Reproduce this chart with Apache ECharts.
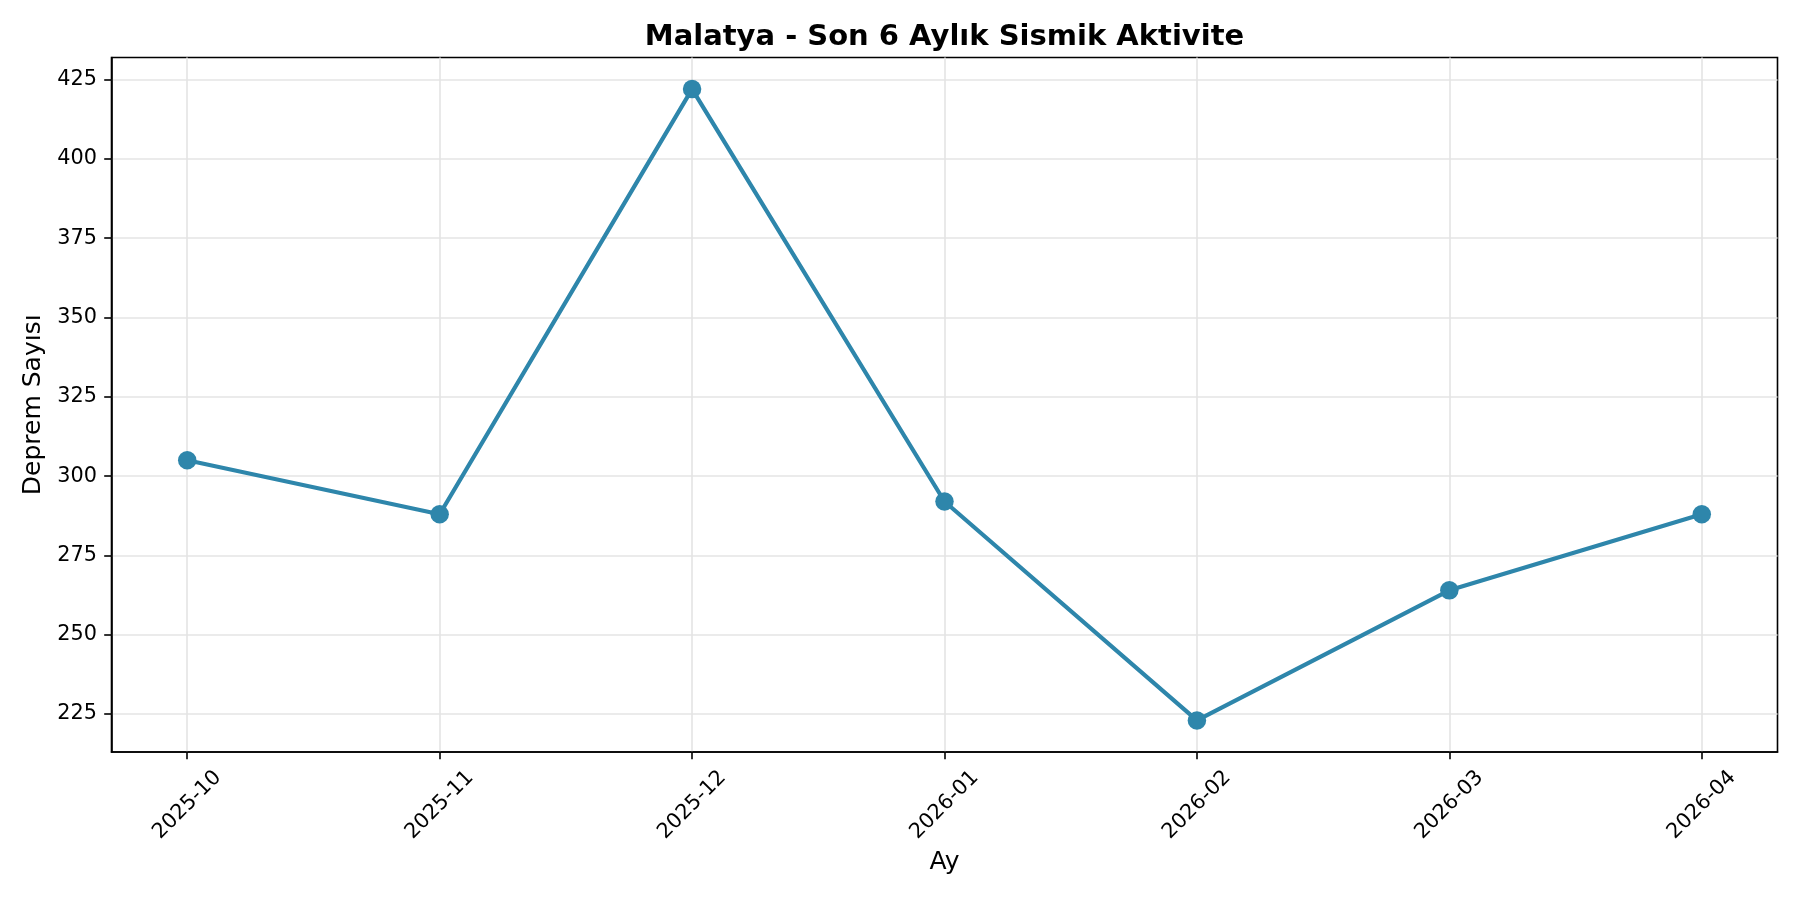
<!DOCTYPE html>
<html>
<head>
<meta charset="utf-8">
<script src="https://cdn.jsdelivr.net/npm/echarts@6/dist/echarts.min.js"></script>
<style>
  html, body { margin: 0; padding: 0; background: #fff; }
  #main { width: 1800px; height: 900px; }
</style>
</head>
<body>
<div id="main"></div>
<script>
var myChart = echarts.init(document.getElementById('main'));

// Monthly earthquake counts
const months = ['2025-10', '2025-11', '2025-12', '2026-01', '2026-02', '2026-03', '2026-04'];
const counts = [305, 288, 422, 292, 223, 264, 288];
const yTicks = [225, 250, 275, 300, 325, 350, 375, 400, 425];
const xTicks = [0, 1, 2, 3, 4, 5, 6];

const FONT = 'DejaVu Sans';
const lineColor = '#2E86AB';

// matplotlib-style 5% padding around the data
const yPad = (Math.max(...counts) - Math.min(...counts)) * 0.05;
const xPad = (months.length - 1) * 0.05;

var option = {
    animation: false,
    backgroundColor: '#fff',
    title: {
        text: 'Malatya - Son 6 Aylık Sismik Aktivite',
        left: 944.5,
        top: 37.5,
        padding: 0,
        textAlign: 'center',
        textVerticalAlign: 'middle',
        textStyle: {
            fontFamily: FONT,
            fontSize: 29,
            fontWeight: 'bold',
            color: '#000'
        }
    },
    grid: {
        left: 111.5,
        right: 22.5,
        top: 57.5,
        bottom: 148,
        show: true,
        borderColor: '#000',
        borderWidth: 1.6,
        containLabel: false
    },
    xAxis: {
        type: 'value',
        min: -xPad,
        max: months.length - 1 + xPad,
        minInterval: 1,
        maxInterval: 1,
        name: 'Ay',
        nameLocation: 'middle',
        nameGap: 98,
        nameTextStyle: { fontFamily: FONT, fontSize: 25, color: '#000' },
        axisLine: { show: true, onZero: false, lineStyle: { color: '#000', width: 1.6 } },
        axisTick: {
            show: true, inside: false, length: 7.3, customValues: xTicks,
            lineStyle: { color: '#000', width: 1.6 }
        },
        axisLabel: {
            customValues: xTicks,
            rotate: 45,
            align: 'center',
            verticalAlign: 'middle',
            margin: 53,
            fontFamily: FONT,
            fontSize: 20.8,
            color: '#000',
            showMinLabel: true,
            showMaxLabel: true,
            formatter: function (v) {
                return Number.isInteger(v) && months[v] ? months[v] : '';
            }
        },
        splitLine: { show: true, lineStyle: { color: '#e4e4e4', width: 1.6 } }
    },
    yAxis: {
        type: 'value',
        min: Math.min(...counts) - yPad,
        max: Math.max(...counts) + yPad,
        minInterval: 25,
        maxInterval: 25,
        name: 'Deprem Sayısı',
        nameLocation: 'middle',
        nameGap: 64,
        nameTextStyle: { fontFamily: FONT, fontSize: 25, color: '#000' },
        axisLine: { show: true, onZero: false, lineStyle: { color: '#000', width: 1.6 } },
        axisTick: {
            show: true, inside: false, length: 7.3, customValues: yTicks,
            lineStyle: { color: '#000', width: 1.6 }
        },
        axisLabel: {
            customValues: yTicks,
            margin: 14.6,
            fontFamily: FONT,
            fontSize: 20.8,
            color: '#000',
            showMinLabel: true,
            showMaxLabel: true
        },
        splitLine: { show: true, lineStyle: { color: '#e4e4e4', width: 1.6 } }
    },
    series: [
        {
            name: 'Deprem Sayısı',
            type: 'line',
            data: counts.map((c, i) => [i, c]),
            symbol: 'circle',
            symbolSize: 18.5,
            lineStyle: { color: lineColor, width: 4.2 },
            itemStyle: { color: lineColor },
            z: 3
        }
    ]
};

myChart.setOption(option);
</script>
</body>
</html>
